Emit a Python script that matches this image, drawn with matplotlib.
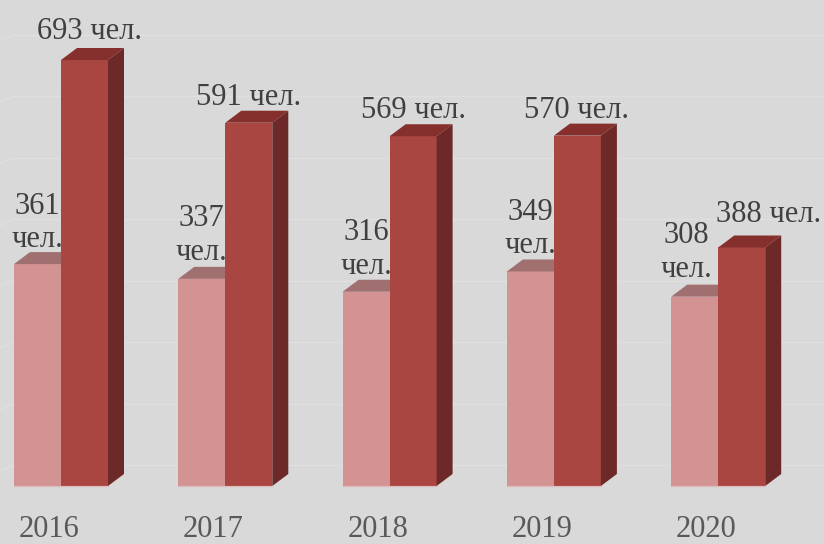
import matplotlib.pyplot as plt
from matplotlib.patches import Polygon
import numpy as np

# Data
years = ["2016", "2017", "2018", "2019", "2020"]
series_light = [361, 337, 316, 349, 308]
series_dark = [693, 591, 569, 570, 388]
unit = "чел."

# Style / geometry (pixel scale of the reference: 1 category = 164.3 px, 1 value = 0.6147 px)
PX_X = 1 / 164.3
PX_Y = 1 / 0.6147
bar_w = 47 * PX_X
depth_x = 16 * PX_X
depth_y = 12 * PX_Y

bg = "#d9d9d9"
light_front = "#d39393"
light_top = "#a07070"
dark_front = "#aa4642"
dark_top = "#86302e"
dark_side = "#6c2928"
label_col = "#404040"
year_col = "#595959"
grid_col = "#dfdfdf"
font = "Liberation Serif"
fsize = 22

# label nudges in pixels (x, last baseline above front top)
dark_nudge = [(5.5, 21), (0, 18), (0, 18), (-1, 18), (26.5, 25)]
light_nudge = [(0, 17), (0, 19), (0, 18), (0, 18), (-8.5, 20)]

fig = plt.figure(figsize=(8.24, 5.44), dpi=100)
fig.patch.set_facecolor(bg)
ax = fig.add_axes([0, 0, 1, 1])
ax.set_facecolor(bg)
ax.set_xlim(-61 * PX_X, 763 * PX_X)
ax.set_ylim(-58 * PX_Y, 486 * PX_Y)
ax.axis("off")

x = np.arange(len(years))

# faint back-wall gridlines
for v in range(0, 800, 100):
    yv = v + 21 * PX_Y
    ax.plot([x[0] - bar_w - 14 * PX_X, x[0] - bar_w], [yv - 6 * PX_Y, yv],
            color=grid_col, lw=1, zorder=0)
    ax.plot([x[0] - bar_w, 10], [yv, yv], color=grid_col, lw=1, zorder=0)


def box(ax, left, h, front, top, side, z):
    right = left + bar_w
    ax.bar(left, h, bar_w, align="edge", color=front, zorder=z,
           edgecolor="none")
    ax.add_patch(Polygon([(left, h), (right, h), (right + depth_x, h + depth_y),
                          (left + depth_x, h + depth_y)],
                         closed=True, color=top, zorder=z, lw=0))
    if side is not None:
        ax.add_patch(Polygon([(right, 0), (right + depth_x, depth_y),
                              (right + depth_x, h + depth_y), (right, h)],
                             closed=True, color=side, zorder=z, lw=0))


for i in range(len(years)):
    box(ax, x[i] - bar_w, series_light[i], light_front, light_top, None, 2)
    box(ax, x[i], series_dark[i], dark_front, dark_top, dark_side, 3)

    # thin light line along the base
    ax.plot([x[i] - bar_w, x[i] + bar_w], [0, 0], color="#e3a9a9", lw=1,
            zorder=4, alpha=0.6)

    dx, dy = dark_nudge[i]
    ax.text(x[i] + bar_w / 2 + dx * PX_X, series_dark[i] + dy * PX_Y,
            f"{series_dark[i]} {unit}", ha="center", va="baseline",
            fontsize=fsize, family=font, color=label_col, zorder=5)

    lx, ly = light_nudge[i]
    ax.text(x[i] - bar_w / 2 + lx * PX_X, series_light[i] + ly * PX_Y,
            f"{series_light[i]}\n{unit}", ha="center", va="baseline",
            fontsize=fsize, family=font, color=label_col, zorder=5,
            linespacing=1.2)

    ax.text(x[i] - 12 * PX_X, -51 * PX_Y, years[i], ha="center",
            va="baseline", fontsize=fsize, family=font, color=year_col)

fig.savefig("out.png", dpi=100, facecolor=bg)
